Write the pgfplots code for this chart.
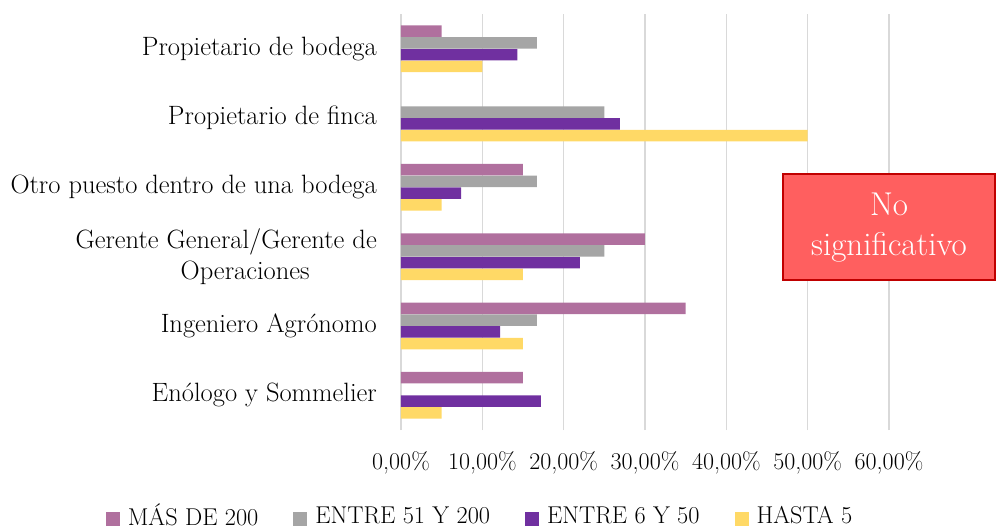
\documentclass[border=0pt]{standalone}
\usepackage{fontspec}
\usepackage{pgfplots}
\pgfplotsset{compat=1.18}
\definecolor{mas}{HTML}{B0709E}
\definecolor{entre51}{HTML}{A5A5A5}
\definecolor{entre6}{HTML}{7030A0}
\definecolor{hasta}{HTML}{FFD966}
\definecolor{gridc}{HTML}{D9D9D9}
\definecolor{boxfill}{HTML}{FF5F5F}
\definecolor{boxline}{HTML}{C00000}
\begin{document}
\begin{tikzpicture}
\path[use as bounding box] (0pt,0pt) rectangle (996pt,530pt);
\begin{axis}[
  at={(401pt,100pt)}, anchor=south west, scale only axis,
  width=488pt, height=416pt,
  xbar=0.25pt, bar width=11.5pt,
  xmin=0, xmax=60, ymin=-0.5, ymax=5.5,
  axis line style={draw=none},
  xmajorgrids, grid style={draw=gridc, line width=1.5pt},
  major tick length=0pt,
  xtick={0,10,...,60},
  xticklabels={{0,00\%},{10,00\%},{20,00\%},{30,00\%},{40,00\%},{50,00\%},{60,00\%}},
  ytick={0,...,5},
  yticklabels={{Enólogo y Sommelier},{Ingeniero Agrónomo},{Gerente General/Gerente de\\\hspace*{38pt}Operaciones},{Otro puesto dentro de una bodega},{Propietario de finca},{Propietario de bodega}},
  yticklabel style={font=\fontsize{26.5}{31}\selectfont, align=center, inner sep=0pt, xshift=-24pt},
  xticklabel style={font=\fontsize{24}{30}\selectfont, inner sep=0pt, yshift=-21pt},
  reverse legend,
  legend columns=4,
  legend style={at={(0.162,-0.206)}, anchor=center, draw=none, fill=none,
    font=\fontsize{24.3}{29}\selectfont, inner sep=0pt,
    /tikz/every odd column/.style={column sep=6pt},
    /tikz/every even column/.style={column sep=33pt}},
  legend image code/.code={\fill[#1] (0pt,-10pt) rectangle (14pt,4pt);},
]
\addplot[draw=none, fill=hasta] coordinates {(5,0) (15,1) (15,2) (5,3) (50,4) (10,5)};
\addplot[draw=none, fill=entre6] coordinates {(17.2,0) (12.2,1) (22,2) (7.4,3) (26.9,4) (14.3,5)};
\addplot[draw=none, fill=entre51] coordinates {(16.7,1) (25,2) (16.7,3) (25,4) (16.7,5)};
\addplot[draw=none, fill=mas] coordinates {(15,0) (35,1) (30,2) (15,3) (5,5)};
\legend{HASTA 5, ENTRE 6 Y 50, ENTRE 51 Y 200, MÁS DE 200}
\end{axis}
\node[draw=boxline, line width=2pt, fill=boxfill, minimum width=212pt, minimum height=106pt,
  text=white, align=center, font=\fontsize{33}{40}\selectfont]
  at (889pt,302.5pt) {No\\significativo};
\end{tikzpicture}
\end{document}
